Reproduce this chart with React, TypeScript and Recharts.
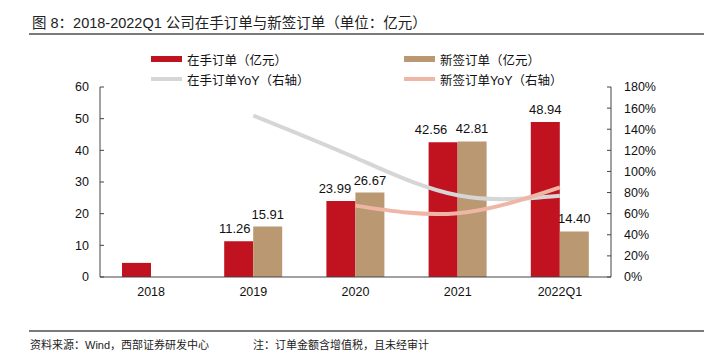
import React from 'react';
import { ComposedChart, Bar, Line, XAxis, YAxis, LabelList } from 'recharts';

// 数据：2018-2022Q1 在手订单与新签订单（亿元）及同比
const categories = ['2018', '2019', '2020', '2021', '2022Q1'];
const inHandOrders = [4.45, 11.26, 23.99, 42.56, 48.94];
const newOrders: (number | null)[] = [null, 15.91, 26.67, 42.81, 14.4];
const inHandYoY: (number | null)[] = [null, 153, 113, 77.4, 77];
const newYoY: (number | null)[] = [null, null, 67.6, 60.5, 85];
const leftTicks = [0, 10, 20, 30, 40, 50, 60];
const rightTicks = [0, 20, 40, 60, 80, 100, 120, 140, 160, 180];
const boundaryTicks = [1, 2, 3, 4];

// 在手订单标签在原图中被手动左移，避免与新签订单标签重叠
const inHandLabelNudge = [0, -4, -6, -12, 0];

const RED = '#c1121f';
const BROWN = '#b99872';
const GRAY = '#d6d6d6';
const PINK = '#efb6a6';
const AXIS = '#444';

const FONT = '"Liberation Sans", "Noto Sans CJK SC", sans-serif';

const chartData = categories.map((name, i) => ({
  name,
  inHand: inHandOrders[i],
  // 2018 年柱子上没有数值标签
  inHandLabel: i === 0 ? null : inHandOrders[i],
  newOrder: newOrders[i],
  inHandYoY: inHandYoY[i],
  newYoY: newYoY[i],
}));

const legendItems = [
  { label: '在手订单（亿元）', color: RED, h: 6, x: 151, y: 59 },
  { label: '新签订单（亿元）', color: BROWN, h: 6, x: 404, y: 59 },
  { label: '在手订单YoY（右轴）', color: GRAY, h: 4, x: 151, y: 79 },
  { label: '新签订单YoY（右轴）', color: PINK, h: 4, x: 404, y: 79 },
];

const tickStyle = { fontSize: 12.5, fill: '#111', fontFamily: FONT };

const InHandLabel = (props: any) => {
  const { x, y, width, value, index } = props;
  if (value == null) return null;
  return (
    <text
      x={x + width / 2 + (inHandLabelNudge[index] || 0)}
      y={y - 8}
      textAnchor="middle"
      fontSize={13}
      fill="#111"
      fontFamily={FONT}
    >
      {Number(value).toFixed(2)}
    </text>
  );
};

const NewLabel = (props: any) => {
  const { x, y, width, value } = props;
  if (value == null) return null;
  return (
    <text x={x + width / 2} y={y - 8} textAnchor="middle" fontSize={13} fill="#111" fontFamily={FONT}>
      {Number(value).toFixed(2)}
    </text>
  );
};

export default function App() {
  return (
    <div style={{ position: 'absolute', left: 0, top: 0, width: 718, height: 362, background: '#fff', fontFamily: FONT }}>
      <div style={{ position: 'absolute', left: 32, top: 11, fontSize: 14.5, color: '#222', whiteSpace: 'nowrap' }}>
        图 8：2018-2022Q1 公司在手订单与新签订单（单位：亿元）
      </div>
      <div style={{ position: 'absolute', left: 29, top: 33, width: 675, height: 2, background: '#7a7a7a' }} />

      {legendItems.map((it) => (
        <div key={it.label} style={{ position: 'absolute', left: it.x, top: it.y - 9, height: 18, display: 'flex', alignItems: 'center', whiteSpace: 'nowrap' }}>
          <span style={{ display: 'inline-block', width: 31, height: it.h, background: it.color, marginRight: 5 }} />
          <span style={{ fontSize: 12.5, color: '#111' }}>{it.label}</span>
        </div>
      ))}

      <ComposedChart
        width={718}
        height={362}
        data={chartData}
        margin={{ top: 87, right: 0, bottom: 55, left: 0 }}
        barGap={0}
        barSize={29}
        style={{ position: 'absolute', left: 0, top: 0 }}
      >
        <XAxis
          xAxisId="bounds"
          type="number"
          domain={[0, 5]}
          ticks={boundaryTicks}
          height={0}
          axisLine={false}
          tick={false}
          tickSize={-4}
          tickLine={{ stroke: AXIS }}
        />
        <XAxis
          dataKey="name"
          height={30}
          tickLine={false}
          tickSize={0}
          tickMargin={10}
          tick={tickStyle}
          axisLine={{ stroke: AXIS }}
        />
        <YAxis
          yAxisId="left"
          width={100}
          domain={[0, 60]}
          ticks={leftTicks}
          tickSize={-4}
          tickMargin={15}
          tick={tickStyle}
          axisLine={{ stroke: AXIS }}
          tickLine={{ stroke: AXIS }}
        />
        <YAxis
          yAxisId="right"
          orientation="right"
          width={107}
          domain={[0, 180]}
          ticks={rightTicks}
          tickFormatter={(v: number) => `${v}%`}
          tickSize={-4}
          tickMargin={17}
          tick={{ ...tickStyle, textAnchor: 'start' }}
          axisLine={{ stroke: AXIS }}
          tickLine={{ stroke: AXIS }}
        />
        <Bar yAxisId="left" dataKey="inHand" name="在手订单（亿元）" fill={RED} isAnimationActive={false}>
          <LabelList dataKey="inHandLabel" content={InHandLabel} />
        </Bar>
        <Bar yAxisId="left" dataKey="newOrder" name="新签订单（亿元）" fill={BROWN} isAnimationActive={false}>
          <LabelList dataKey="newOrder" content={NewLabel} />
        </Bar>
        <Line
          yAxisId="right"
          type="natural"
          dataKey="inHandYoY"
          name="在手订单YoY（右轴）"
          stroke={GRAY}
          strokeWidth={4}
          dot={false}
          activeDot={false}
          isAnimationActive={false}
        />
        <Line
          yAxisId="right"
          type="natural"
          dataKey="newYoY"
          name="新签订单YoY（右轴）"
          stroke={PINK}
          strokeWidth={4}
          dot={false}
          activeDot={false}
          isAnimationActive={false}
        />
      </ComposedChart>

      <div style={{ position: 'absolute', left: 29, top: 330, width: 675, height: 2, background: '#7a7a7a' }} />
      <div style={{ position: 'absolute', left: 30, top: 336, fontSize: 11, color: '#222', whiteSpace: 'nowrap' }}>
        资料来源：Wind，西部证券研发中心
      </div>
      <div style={{ position: 'absolute', left: 253, top: 336, fontSize: 11, color: '#222', whiteSpace: 'nowrap' }}>
        注：订单金额含增值税，且未经审计
      </div>
    </div>
  );
}
